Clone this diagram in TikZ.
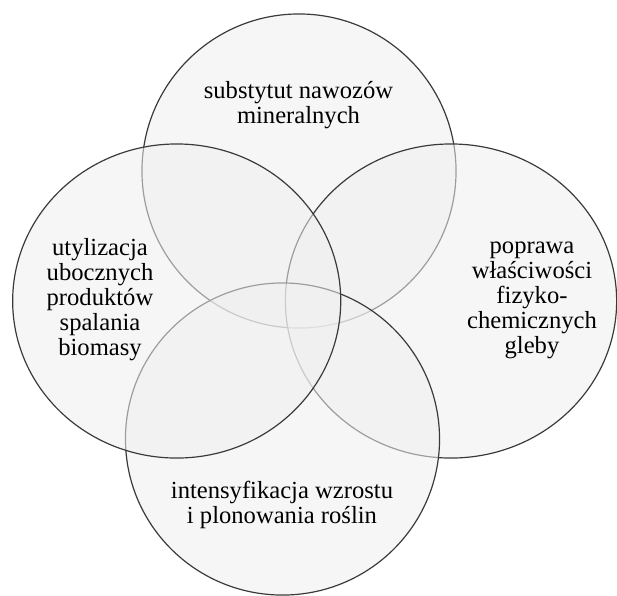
\documentclass[tikz,border=0pt]{standalone}
\usepackage{fontspec}
\setmainfont{Liberation Serif}
\usetikzlibrary{shapes.geometric}
\definecolor{cLine}{HTML}{3A3A3A}
\definecolor{cFill}{HTML}{EFEFEF}
\tikzset{
  kolo/.style={ellipse,draw=cLine,line width=0.85pt,fill=cFill,fill opacity=0.55,inner sep=0pt,minimum width=7.85cm,minimum height=7.85cm},
  opis/.style={align=center,font=\fontsize{17.5}{17.8}\selectfont,text=black,inner sep=0pt},
}
\begin{document}
\begin{tikzpicture}[x=0.025cm,y=-0.025cm]
  \useasboundingbox (0,0) rectangle (617,595);
  % kolejnosc rysowania: gora, prawo, dol, lewo
  \node[kolo] (kg) at (299,171) {};
  \node[kolo,minimum width=8.28cm] (kp) at (451,301) {};
  \node[kolo,minimum height=7.8cm] (kd) at (282.5,439) {};
  \node[kolo,minimum width=8.2cm] (kl) at (176.7,301) {};
  % opisy
  \node[opis] (tg) at (298.5,105) {substytut nawozów\\mineralnych};
  \node[opis] (tl) at (100,300) {utylizacja\\ubocznych\\produktów\\spalania\\biomasy};
  \node[opis] (tp) at (532,300) {poprawa\\właściwości\\fizyko-\\chemicznych\\gleby};
  \node[opis] (td) at (282,505) {intensyfikacja wzrostu\\i plonowania roślin};
\end{tikzpicture}
\end{document}
